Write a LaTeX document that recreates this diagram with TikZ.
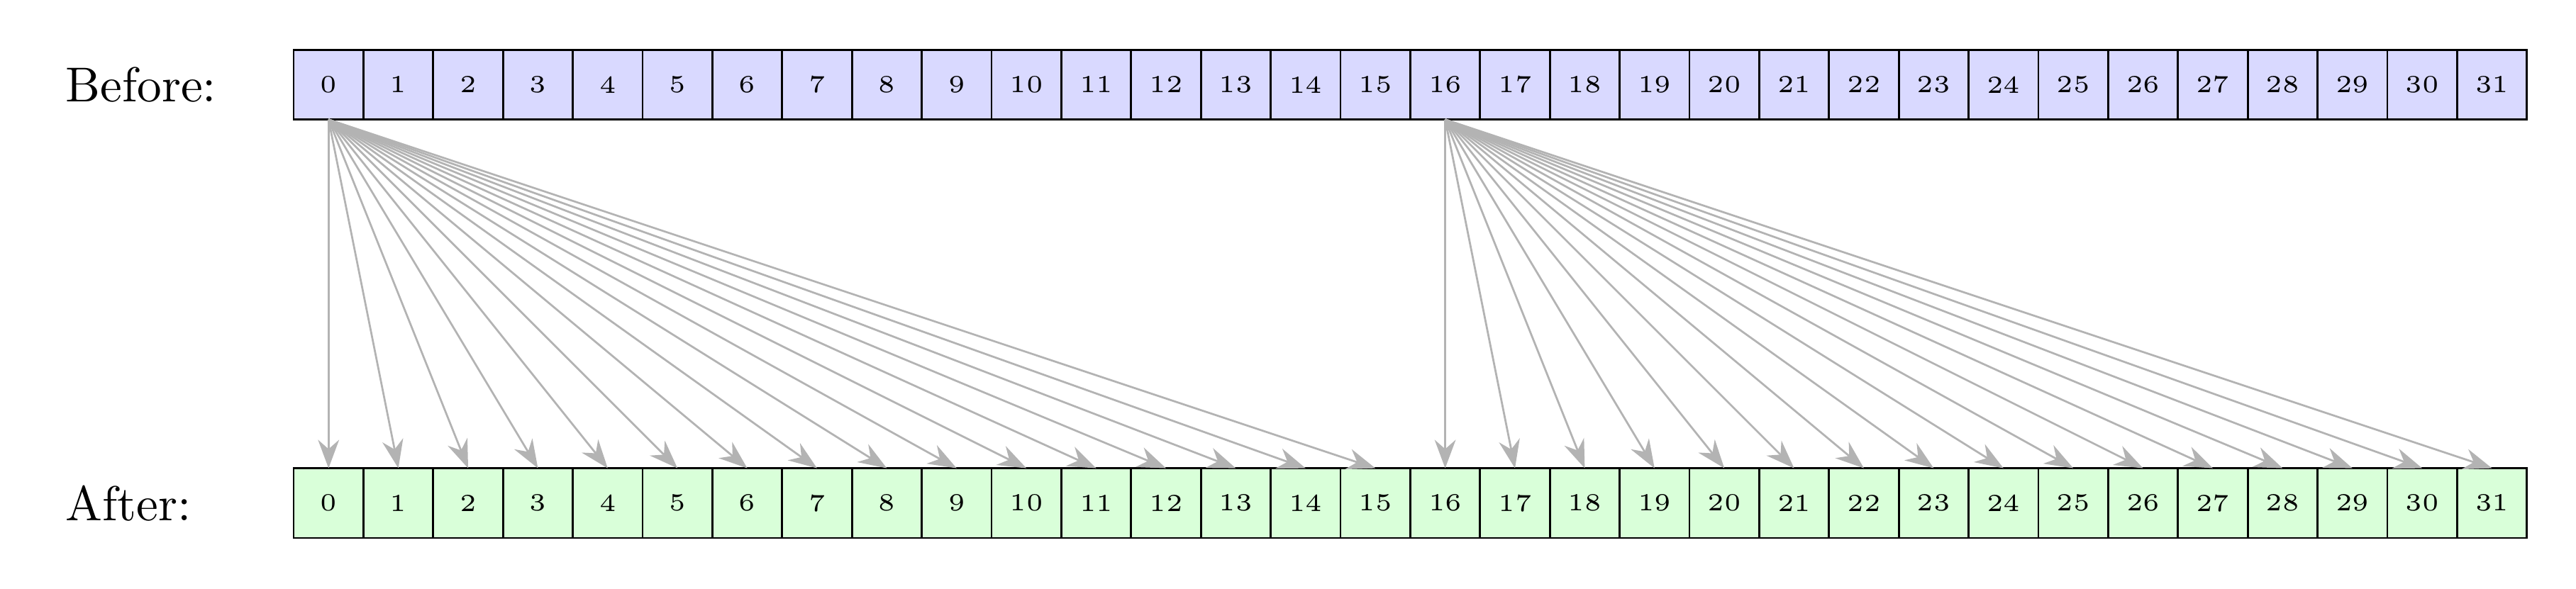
\documentclass[tikz,border=0pt]{standalone}
\definecolor{beforefill}{HTML}{D9D9FF}
\definecolor{afterfill}{HTML}{D9FFD9}
\definecolor{arrowgray}{HTML}{B3B3B3}
\usepackage{tikz}
\usetikzlibrary{positioning,arrows.meta}

\begin{document}
\begin{tikzpicture}[
    cell/.style={rectangle, draw=black, minimum size=0.5cm, inner sep=0pt,
                 outer sep=0pt, font=\tiny},
    precell/.style={cell, fill=beforefill},
    postcell/.style={cell, fill=afterfill},
    lbl/.style={anchor=west, inner sep=0pt},
    arr/.style={-{Stealth[length=5.8pt, width=4.3pt]}, color=arrowgray}
  ]
    \useasboundingbox (-2.354,-0.613) rectangle (16.102,3.607);

    \node[lbl] (before) at (-1.89,3) {Before:};
    \node[lbl] (after)  at (-1.89,0) {After:};

    % the two rows of cells
    \foreach \i in {0,...,31} {
      \node[precell]  (pre\i)  at (0.5*\i,3) {\i};
      \node[postcell] (post\i) at (0.5*\i,0) {\i};
    }

    % each half is fed from its first cell
    \foreach \j in {0,...,15}
      \draw[arr] (pre0.south) -- (post\j.north);
    \foreach \j in {16,...,31}
      \draw[arr] (pre16.south) -- (post\j.north);
  \end{tikzpicture}
\end{document}
